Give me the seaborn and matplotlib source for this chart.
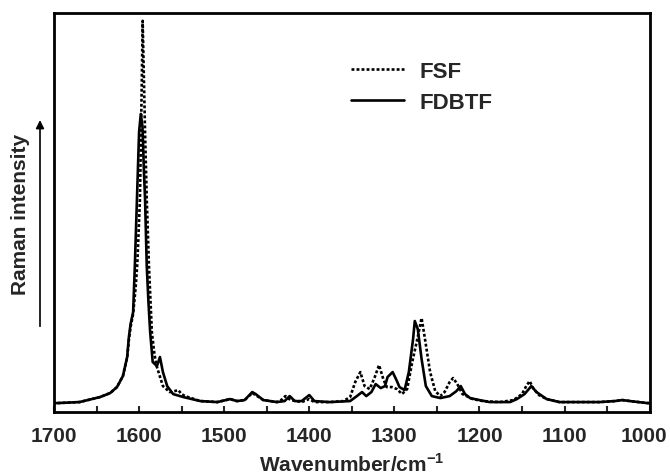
#!/usr/bin/env python
# Raman spectra of FSF and FDBTF

import pandas as pd
import matplotlib
matplotlib.use('Agg')
import matplotlib.pyplot as plt
import matplotlib.transforms as mtransforms
import seaborn as sns

# Spectra (wavenumber in cm-1, intensity in arbitrary units)
fdbtf_wn = [1700, 1696, 1670, 1646, 1634, 1626, 1619, 1614, 1612, 1610, 1607, 1605,
            1602.5, 1600, 1598, 1596, 1594.3, 1593, 1591, 1589, 1587, 1584, 1579,
            1575.5, 1572, 1567, 1560, 1548, 1528, 1508, 1493, 1485, 1476, 1467, 1463,
            1454, 1438, 1429, 1423, 1417, 1409, 1400, 1394, 1376, 1352, 1344, 1338,
            1333, 1327, 1322, 1316, 1311, 1308, 1302, 1297, 1294, 1288, 1283, 1278,
            1276, 1272.5, 1268, 1263, 1256, 1246, 1235, 1227, 1222, 1217, 1211, 1200,
            1188, 1164, 1156, 1147, 1139, 1133, 1121, 1106, 1059, 1041, 1032, 1023,
            1003, 1000]
fdbtf_int = [9, 9, 10, 15, 19, 25, 36, 55, 75, 88, 100, 146,
             213, 280, 298, 285, 240, 213, 146, 110, 80, 50, 46,
             55, 40, 26, 18, 15, 11, 10, 13, 11, 12, 20, 18,
             12, 10, 11, 16, 11, 11, 17, 11, 10, 11, 16, 20,
             16, 20, 28, 24, 26, 35, 40, 31, 25, 22, 40, 73,
             91, 83, 53, 26, 16, 14, 16, 21, 26, 18, 14, 12,
             10, 10, 13, 18, 26, 20, 13, 10, 10, 11, 12, 11,
             9, 9]

fsf_wn = [1700, 1696, 1670, 1646, 1634, 1626, 1619, 1614, 1612, 1610, 1607, 1604,
          1602, 1599, 1597.4, 1595.8, 1594.5, 1593, 1591, 1588.4, 1585, 1582, 1579.4,
          1572, 1564, 1558, 1554, 1550, 1546, 1528, 1508, 1493, 1485, 1476, 1467,
          1463, 1454, 1438, 1433, 1428, 1422, 1409, 1400, 1394, 1376, 1360, 1352,
          1346, 1340, 1335, 1329, 1323, 1318, 1313, 1309, 1303, 1297, 1291, 1285,
          1279, 1273, 1268, 1264, 1258, 1252, 1246, 1241, 1235, 1231, 1226, 1220,
          1208, 1196, 1176, 1160, 1150, 1145, 1141, 1137, 1130, 1121, 1106, 1059,
          1041, 1032, 1023, 1003, 1000]
fsf_int = [9, 9, 10, 15, 19, 25, 36, 55, 72, 85, 98, 125,
           150, 213, 298, 391, 340, 280, 213, 146, 80, 58, 46,
           26, 20, 21, 22, 18, 16, 11, 10, 13, 11, 12, 19,
           17, 12, 10, 12, 16, 12, 10, 13, 10, 10, 11, 15,
           30, 40, 26, 23, 35, 47, 33, 25, 25, 23, 18, 23,
           50, 73, 94, 73, 40, 21, 16, 20, 30, 34, 28, 18,
           13, 11, 10, 12, 18, 26, 31, 24, 17, 13, 10, 10,
           11, 12, 11, 9, 9]

x_ticks = [1700, 1600, 1500, 1400, 1300, 1200, 1100, 1000]

sns.set_style('white')
plt.rcParams['font.family'] = ['Liberation Sans', 'DejaVu Sans']
plt.rcParams['font.weight'] = 'bold'
plt.rcParams['mathtext.fontset'] = 'custom'
plt.rcParams['mathtext.rm'] = 'Liberation Sans'
plt.rcParams['mathtext.bf'] = 'Liberation Sans:bold'

fig = plt.figure(figsize=(6.7, 4.77), dpi=100)
ax = fig.add_axes([0.0806, 0.134, 0.889, 0.837])

fsf_df = pd.DataFrame({'wn': fsf_wn, 'intensity': fsf_int})
fdbtf_df = pd.DataFrame({'wn': fdbtf_wn, 'intensity': fdbtf_int})

sns.lineplot(data=fsf_df, x='wn', y='intensity', ax=ax, color='black',
             linewidth=1.9, linestyle=(0, (1.1, 0.8)), label='FSF')
sns.lineplot(data=fdbtf_df, x='wn', y='intensity', ax=ax, color='black',
             linewidth=1.9, label='FDBTF')

ax.set_xlim(1700, 1000)
ax.set_ylim(0, 399)
ax.set_xticks(x_ticks)
ax.set_xticks(range(1000, 1701, 50), minor=True)
ax.set_yticks([])
ax.tick_params(axis='x', which='both', direction='in', length=4, width=1.5,
               bottom=True, labelsize=15, pad=10)
for spine in ax.spines.values():
    spine.set_linewidth(2)
    spine.set_color('black')

# nudge the last tick label inward so it stays in the picture
last = ax.get_xticklabels()[-1]
last.set_transform(last.get_transform() +
                   mtransforms.ScaledTranslation(-6 / 100, 0, fig.dpi_scale_trans))

ax.set_xlabel('Wavenumber/cm$^{\\mathbf{-1}}$', fontsize=15, fontweight='bold', labelpad=5)
ax.set_ylabel('')

leg = ax.legend(loc='upper left', bbox_to_anchor=(0.465, 0.93), frameon=False,
                fontsize=16, handlelength=2.4, handletextpad=0.7, labelspacing=0.45)
for t in leg.get_texts():
    t.set_fontweight('bold')

# y axis label with arrow
fig.text(0.030, 0.55, 'Raman intensity', rotation=90, ha='center', va='center',
         fontsize=15, fontweight='bold')
fig.add_artist(matplotlib.patches.FancyArrowPatch(
    (0.0597, 0.308), (0.0597, 0.752), transform=fig.transFigure,
    arrowstyle='-|>', mutation_scale=12, color='black', linewidth=1.2))

fig.savefig('out.png', dpi=100)
